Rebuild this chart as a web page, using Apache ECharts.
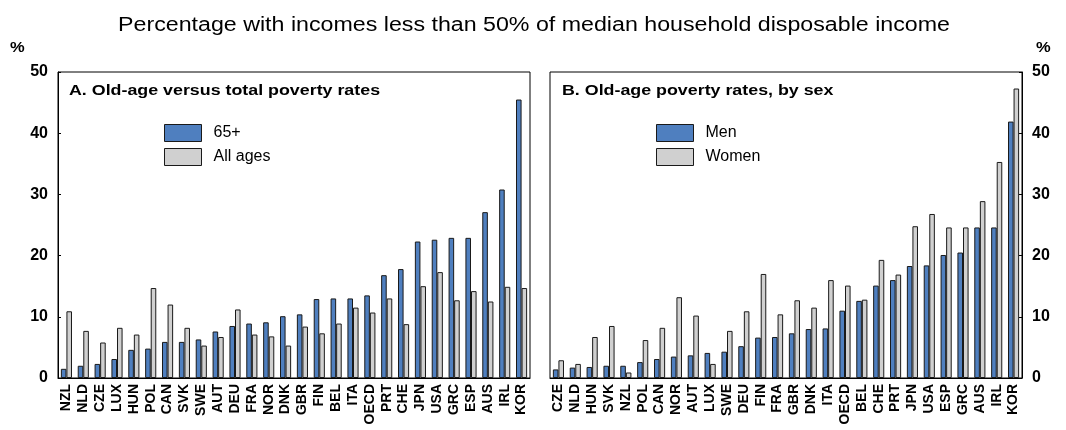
<!DOCTYPE html>
<html><head><meta charset="utf-8">
<script src="https://cdn.jsdelivr.net/npm/echarts@6/dist/echarts.min.js"></script>
<style>html,body{margin:0;padding:0;background:#fff}#c{width:1066px;height:430px}</style>
</head><body><div id="c"></div>
<script>
const catsA = ['NZL','NLD','CZE','LUX','HUN','POL','CAN','SVK','SWE','AUT','DEU','FRA','NOR','DNK','GBR','FIN','BEL','ITA','OECD','PRT','CHE','JPN','USA','GRC','ESP','AUS','IRL','KOR'];
const old65 = [1.5,2.0,2.3,3.1,4.6,4.8,5.9,5.9,6.3,7.6,8.5,8.9,9.1,10.1,10.4,12.9,13.0,13.0,13.5,16.8,17.8,22.3,22.6,22.9,22.9,27.1,30.8,45.5];
const allAges = [10.9,7.7,5.8,8.2,7.1,14.7,12.0,8.2,5.3,6.7,11.2,7.1,6.8,5.3,8.4,7.3,8.9,11.5,10.7,13.0,8.8,15.0,17.3,12.7,14.2,12.5,14.9,14.7];
const catsB = ['CZE','NLD','HUN','SVK','NZL','POL','CAN','NOR','AUT','LUX','SWE','DEU','FIN','FRA','GBR','DNK','ITA','OECD','BEL','CHE','PRT','JPN','USA','ESP','GRC','AUS','IRL','KOR'];
const men = [1.4,1.7,1.8,2.0,2.0,2.6,3.1,3.5,3.7,4.1,4.3,5.2,6.6,6.7,7.3,8.0,8.1,11.0,12.6,15.1,16.0,18.3,18.4,20.1,20.5,24.6,24.6,41.9];
const women = [2.9,2.3,6.7,8.5,0.9,6.2,8.2,13.2,10.2,2.3,7.7,10.9,17.0,10.4,12.7,11.5,16.0,15.1,12.8,19.3,16.9,24.8,26.8,24.6,24.6,28.9,35.3,47.3];
const yTicks = [0,10,20,30,40,50];
const mainTitle = 'Percentage with incomes less than 50% of median household disposable income';
const titleA = 'A. Old-age versus total poverty rates';
const titleB = 'B. Old-age poverty rates, by sex';

const FONT = '"Liberation Sans", Arial, sans-serif';
const BLUE = '#4f7fbf', GREY = '#d0d0d0';
const chart = echarts.init(document.getElementById('c'));
const barStyle = c => ({color:c, borderColor:'#1a1a1a', borderWidth:1});
const xAx = (cats, gi) => ({
  type:'category', data:cats, gridIndex:gi,
  axisLine:{show:true, lineStyle:{color:'#000'}}, axisTick:{show:false},
  axisLabel:{rotate:90, fontFamily:FONT, fontWeight:'bold', fontSize:14, color:'#000', margin:6, interval:0}
});
const yAx = (gi, pos) => ({
  type:'value', gridIndex:gi, min:yTicks[0], max:yTicks[yTicks.length-1], interval:10, position:pos,
  splitLine:{show:false}, axisLine:{show:true, lineStyle:{color:'#000'}},
  axisTick:{show:true, inside:true, length:3, lineStyle:{color:'#000'}},
  axisLabel:{fontFamily:FONT, fontWeight:'bold', fontSize:16, color:'#000', margin:10}
});
const txt = (text, x, y, font, align, sx) => ({type:'text', x:x, y:y, scaleX:sx, silent:true,
  style:{text:text, font:font, fill:'#000', align:align, verticalAlign:'middle'}});
const legendCfg = (names, left) => ({data:names, orient:'vertical', left:left, top:124, padding:0, icon:'rect',
  itemWidth:37, itemHeight:17, itemGap:6,
  textStyle:{fontFamily:FONT, fontSize:16, color:'#000', padding:[0,0,0,7]},
  itemStyle:{borderColor:'#1a1a1a', borderWidth:1}});
chart.setOption({
  animation:false,
  graphic:[
    txt(mainTitle, 534, 25, '20px '+FONT, 'center', 1.16),
    txt(titleA, 69, 91, 'bold 15.5px '+FONT, 'left', 1.15),
    txt(titleB, 562, 91, 'bold 15.5px '+FONT, 'left', 1.15),
    txt('%', 10, 48, 'bold 15px '+FONT, 'left', 1.1),
    txt('%', 1036, 48, 'bold 15px '+FONT, 'left', 1.1)
  ],
  legend:[legendCfg(['65+','All ages'], 164), legendCfg(['Men','Women'], 656)],
  grid:[
    {left:58, width:472, top:72, height:306, show:true, borderColor:'#000', borderWidth:1},
    {left:550, width:472, top:72, height:306, show:true, borderColor:'#000', borderWidth:1}
  ],
  xAxis:[xAx(catsA,0), xAx(catsB,1)],
  yAxis:[yAx(0,'left'), yAx(1,'right')],
  series:[
    {name:'65+', type:'bar', xAxisIndex:0, yAxisIndex:0, data:old65, itemStyle:barStyle(BLUE), barGap:'0%', barCategoryGap:'34%'},
    {name:'All ages', type:'bar', xAxisIndex:0, yAxisIndex:0, data:allAges, itemStyle:barStyle(GREY), barGap:'0%', barCategoryGap:'34%'},
    {name:'Men', type:'bar', xAxisIndex:1, yAxisIndex:1, data:men, itemStyle:barStyle(BLUE), barGap:'0%', barCategoryGap:'34%'},
    {name:'Women', type:'bar', xAxisIndex:1, yAxisIndex:1, data:women, itemStyle:barStyle(GREY), barGap:'0%', barCategoryGap:'34%'}
  ]
});
</script></body></html>
